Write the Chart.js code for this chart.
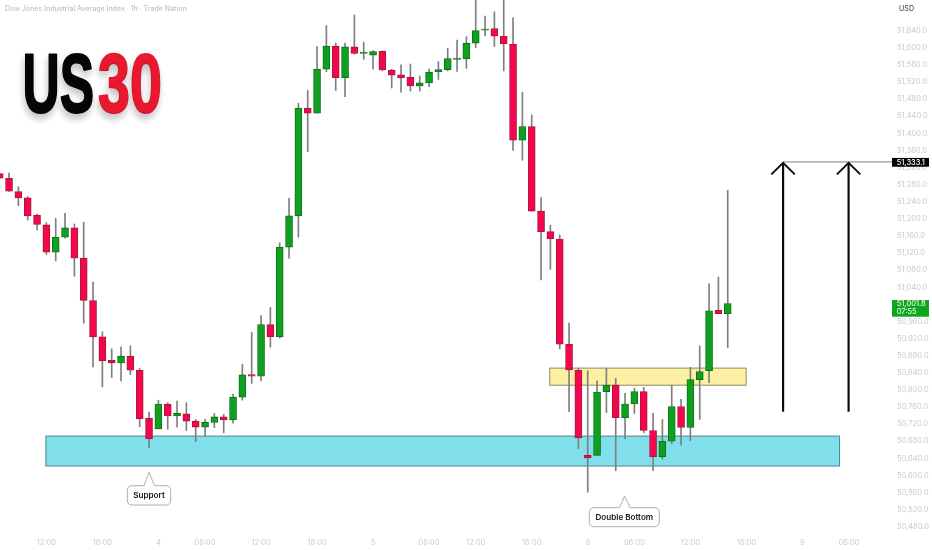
<!DOCTYPE html>
<html><head><meta charset="utf-8">
<style>html,body{margin:0;padding:0;background:#fff;overflow:hidden}canvas{display:block}</style>
<script src="https://cdn.jsdelivr.net/npm/chart.js@4/dist/chart.umd.min.js"></script>
</head><body><canvas id="c" width="932" height="550"></canvas>
<script>
const opens=[51306,51295,51264,51249,51208,51186,51122,51157,51179,51108,51009,50924,50869,50863,50879,50846,50734,50709,50767,50739,50744,50727,50713,50724,50737,50730,50783,50836,50832,50953,50924,51134,51207,51459,51447,51550,51604,51530,51602,51587,51583,51592,51548,51537,51531,51511,51518,51544,51549,51573,51574,51611,51641,51645,51627,51609,51384,51416,51218,51170,51153,50907,50846,50647,50647,50796,50811,50735,50767,50796,50705,50644,50680,50761,50712,50824,50845,50986,50978];
const closes=[51295,51265,51249,51207,51187,51122,51157,51179,51108,51009,50924,50868,50863,50879,50846,50733,50686,50767,50739,50745,50727,50713,50724,50737,50730,50783,50835,50832,50953,50924,51134,51207,51459,51447,51550,51604,51530,51602,51587,51590,51591,51548,51536,51530,51511,51518,51543,51549,51575,51576,51611,51640,51644,51627,51609,51384,51416,51218,51170,51153,50907,50847,50688,50641,50795,50811,50735,50767,50796,50705,50644,50680,50761,50712,50824,50843,50985,50978,51001.8];
const highs=[51306,51307,51275,51252,51211,51191,51201,51213,51188,51192,51052,50936,50896,50901,50903,50850,50748,50776,50770,50774,50770,50731,50731,50745,50743,50790,50860,50935,50974,50993,51144,51248,51470,51500,51603,51652,51611,51611,51677,51613,51593,51593,51550,51560,51562,51534,51550,51568,51599,51618,51626,51723,51674,51684,51730,51670,51496,51443,51250,51185,51162,50956,50851,50845,50821,50851,50827,50792,50804,50806,50745,50731,50811,50778,50853,50903,51048,51064,51267];
const lows=[51294,51264,51231,51197,51174,51117,51102,51155,51066,50956,50854,50807,50829,50821,50836,50714,50665,50709,50708,50713,50705,50679,50691,50712,50700,50722,50776,50815,50821,50900,50921,51108,51157,51357,51447,51544,51500,51486,51585,51573,51550,51546,51506,51496,51499,51499,51509,51526,51546,51545,51552,51600,51628,51603,51546,51360,51337,51218,51057,51082,50896,50749,50663,50561,50647,50747,50611,50686,50745,50700,50611,50638,50674,50671,50681,50731,50817,50978,50899];
const priceTicks=[50480,50520,50560,50600,50640,50680,50720,50760,50800,50840,50880,50920,50960,51000,51040,51080,51120,51160,51200,51240,51280,51320,51360,51400,51440,51480,51520,51560,51600,51640];
const timeTickBars=[5,11,17,22,28,34,40,46,51,57,63,68,74,80,86,91];
const timeLabels=["12:00","18:00","4","06:00","12:00","18:00","5","06:00","12:00","18:00","8","06:00","12:00","18:00","9","06:00"];
const supportZone={from:50622,to:50692,startBar:4.95,endBar:89.98};
const resistanceZone={from:50811,to:50851,startBar:58.93,endBar:79.97};
const lastPrice=51001.8, targetPrice=51333.1, countdown="07:55";
const arrowBars=[83.93,90.95], arrowBase=50749;
const chartTitle="Dow Jones Industrial Average Index · 1h · Trade Nation";

const fmt=v=>v.toLocaleString('en-US',{minimumFractionDigits:1,maximumFractionDigits:1});
const UP='#0fa01f',UPB='#0a6d17',DN='#f2074b',DNB='#a3163e';
const isUp=closes.map((c,i)=>c>=opens[i]);
const fontUI='Inter, "Liberation Sans", sans-serif';

function callout(ctx,cx,tipY,left,right,top,bottom,label){
  const r=5;
  ctx.beginPath();
  ctx.moveTo(left+r,top);
  ctx.lineTo(cx-5,top);ctx.lineTo(cx,tipY);ctx.lineTo(cx+5.5,top);
  ctx.lineTo(right-r,top);ctx.quadraticCurveTo(right,top,right,top+r);
  ctx.lineTo(right,bottom-r);ctx.quadraticCurveTo(right,bottom,right-r,bottom);
  ctx.lineTo(left+r,bottom);ctx.quadraticCurveTo(left,bottom,left,bottom-r);
  ctx.lineTo(left,top+r);ctx.quadraticCurveTo(left,top,left+r,top);
  ctx.closePath();
  ctx.fillStyle='#fff';ctx.fill();ctx.strokeStyle='#9a9a9a';ctx.lineWidth=0.8;ctx.stroke();
  ctx.fillStyle='#131313';ctx.font='600 8.1px '+fontUI;ctx.textAlign='center';ctx.textBaseline='middle';
  ctx.fillText(label,(left+right)/2,(top+bottom)/2+0.3);
}
const zonesPlugin={id:'zones',beforeDatasetsDraw(ch){
  const {ctx,scales:{x,y}}=ch;
  const zone=(z,fill,stroke)=>{
    const l=x.getPixelForValue(z.startBar),r=x.getPixelForValue(z.endBar),t=y.getPixelForValue(z.to),b=y.getPixelForValue(z.from);
    ctx.fillStyle=fill;ctx.fillRect(l,t,r-l,b-t);ctx.strokeStyle=stroke;ctx.lineWidth=1;ctx.strokeRect(l,t,r-l,b-t);
  };
  ctx.save();
  zone(supportZone,'#80dfeb','#4f8598');
  zone(resistanceZone,'#fdf0a2','#8f8a62');
  ctx.restore();
}};
const overlayPlugin={id:'overlay',afterDraw(ch){
  const {ctx,scales:{x,y},chartArea:a}=ch;
  ctx.save();
  ctx.textBaseline='middle';ctx.textAlign='left';
  ctx.fillStyle='#c2c2c2';ctx.font='500 7px '+fontUI;ctx.fillText(chartTitle,5,9);
  ctx.fillStyle='#555';ctx.font='500 7.2px '+fontUI;ctx.fillText('USD',899,9);
  // logo
  ctx.save();
  ctx.shadowColor='rgba(0,0,0,.22)';ctx.shadowBlur=7;ctx.shadowOffsetX=-1;ctx.shadowOffsetY=5;
  ctx.font='bold 84px "Liberation Sans", sans-serif';ctx.textBaseline='alphabetic';ctx.lineJoin='round';
  const logo=(t,px,sx,col)=>{ctx.save();ctx.translate(px,111.7);ctx.scale(sx,1);ctx.fillStyle=col;ctx.strokeStyle=col;ctx.lineWidth=2;ctx.strokeText(t,0,0);ctx.fillText(t,0,0);ctx.restore();};
  logo('US',22.5,0.613,'#050505');
  logo('30',98,0.685,'#e8192e');
  ctx.restore();
  // target line
  const ty=y.getPixelForValue(targetPrice);
  ctx.strokeStyle='#7d7d7d';ctx.lineWidth=1;ctx.beginPath();ctx.moveTo(x.getPixelForValue(arrowBars[0]),ty);ctx.lineTo(a.right,ty);ctx.stroke();
  // arrows
  ctx.strokeStyle='#0b0b0b';ctx.lineCap='butt';ctx.lineJoin='miter';
  arrowBars.forEach(b=>{
    const px=x.getPixelForValue(b),by=y.getPixelForValue(arrowBase);
    ctx.lineWidth=2.2;ctx.beginPath();ctx.moveTo(px,by);ctx.lineTo(px,ty+1);ctx.stroke();
    ctx.lineWidth=1.9;ctx.beginPath();ctx.moveTo(px-11.7,ty+12.5);ctx.lineTo(px,ty+1);ctx.lineTo(px+11.7,ty+12.5);ctx.stroke();
  });
  // price labels
  ctx.textAlign='left';ctx.textBaseline='middle';
  ctx.fillStyle='#050505';ctx.fillRect(892,ty-4,37,8.8);
  ctx.fillStyle='#fff';ctx.font='500 7.4px '+fontUI;ctx.fillText(fmt(targetPrice),896.7,ty+0.4);
  const ly=y.getPixelForValue(lastPrice);
  ctx.fillStyle='#0fa51f';ctx.fillRect(892,ly-3.6,37,16.7);
  ctx.fillStyle='#e8f7e8';ctx.fillText(fmt(lastPrice),896.7,ly+0.5);
  ctx.fillText(countdown,896.7,ly+8.4);
  // callouts
  const cx1=x.getPixelForValue(16),cx2=x.getPixelForValue(66.95);
  callout(ctx,cx1,472.3,127.3,170.7,485.7,505,'Support');
  callout(ctx,cx2,496,589.3,659.3,507.7,526.7,'Double Bottom');
  ctx.restore();
}};
const idx=opens.map((_,i)=>i);
new Chart(document.getElementById('c'),{
  type:'bar',
  plugins:[zonesPlugin,overlayPlugin],
  data:{datasets:[
    {label:'Body',grouped:false,barThickness:7,borderWidth:0.9,borderSkipped:false,
     data:idx.map(i=>({x:i,y:[opens[i],closes[i]]})),
     backgroundColor:isUp.map(u=>u?UP:DN),borderColor:isUp.map(u=>u?UPB:DNB)},
    {label:'Wick',grouped:false,barThickness:1,borderWidth:0,borderSkipped:false,
     data:idx.map(i=>({x:i,y:[lows[i],highs[i]]})),
     backgroundColor:'#7f7f7f'}
  ]},
  options:{
    responsive:false,animation:false,devicePixelRatio:1,
    layout:{padding:0,autoPadding:false},
    plugins:{legend:{display:false},tooltip:{enabled:false},title:{display:false}},
    scales:{
      x:{type:'linear',min:0.032,max:95.6,offset:false,
        grid:{display:false,drawTicks:false},border:{display:false},
        afterFit(s){s.height=15;s.paddingLeft=0;s.paddingRight=0;s.paddingTop=0;s.paddingBottom=0;},
        afterBuildTicks(s){s.ticks=timeTickBars.map(v=>({value:v}));},
        ticks:{autoSkip:false,maxRotation:0,padding:3,color:'#cacaca',font:{size:7.5,family:'Inter'},
          callback(v){const k=timeTickBars.indexOf(v);return k<0?'':timeLabels[k];}}},
      y:{position:'right',min:50460.7,max:51711.8,
        grid:{display:false,drawTicks:false},border:{display:false},
        afterFit(s){s.width=40;s.paddingLeft=0;s.paddingRight=0;s.paddingTop=0;s.paddingBottom=0;},
        afterBuildTicks(s){s.ticks=priceTicks.map(v=>({value:v}));},
        ticks:{autoSkip:false,padding:5,color:'#cacaca',font:{size:7.5,family:'Inter'},
          callback(v){return fmt(v);}}}
    }
  }
});
</script></body></html>
